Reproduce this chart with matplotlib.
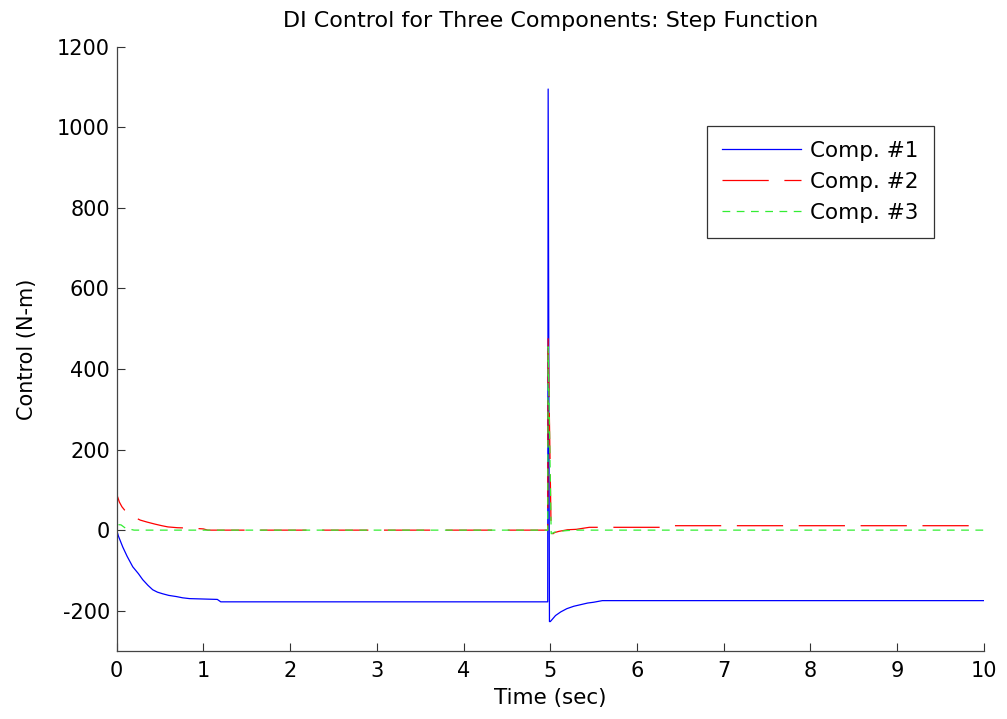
import matplotlib
matplotlib.use("Agg")
import matplotlib.pyplot as plt

plt.rcParams['font.family'] = ['DejaVu Sans']
plt.rcParams['axes.unicode_minus'] = False

# Component 1 control torque (N-m) vs time (sec)
t1 = [0.0, 0.0, 0.02, 0.07, 0.12, 0.185, 0.25, 0.30, 0.36, 0.415, 0.47, 0.53,
      0.60, 0.69, 0.76, 0.84, 1.00, 1.16, 1.20, 4.97, 4.975, 4.99, 5.00, 5.06,
      5.12, 5.19, 5.27, 5.35, 5.43, 5.50, 5.60, 10.0]
u1 = [-300, 0, -15, -42, -65, -91, -108, -123, -137, -148, -154, -158,
      -162, -165, -168, -170, -171, -172, -178, -178, 1095, -227, -227, -212,
      -203, -195, -189, -185, -181, -179, -175, -175]

# Component 2 control torque
t2 = [0.0, 0.0, 0.01, 0.03, 0.06, 0.09, 0.12, 0.18, 0.27, 0.35, 0.44, 0.52,
      0.59, 0.70, 0.85, 1.00, 1.05, 4.97, 4.975, 5.01, 5.05, 5.10, 5.20,
      5.30, 5.45, 6.30, 6.35, 10.0]
u2 = [-300, 75, 83, 70, 58, 50, 45, 35, 25, 20, 15, 11,
      8, 6, 5, 3, 0, 0, 480, -12, -6, -3, 1,
      2, 7, 7, 11, 11]

# Component 3 control torque
t3 = [0.0, 0.0, 0.05, 0.10, 0.20, 4.97, 4.975, 5.01, 5.05, 5.10, 5.20, 5.30, 10.0]
u3 = [-300, 14, 13, 5, 0, 0, 455, -9, -5, -3, -1, 0, 0]

labels = ['Comp. #1', 'Comp. #2', 'Comp. #3']
xticks = list(range(0, 11))
yticks = list(range(-200, 1201, 200))

fig = plt.figure(figsize=(10.07, 7.19), dpi=100)
ax = fig.add_axes([0.1159, 0.0946, 0.8612, 0.8404])

ax.plot(t1, u1, color=(0, 0, 1), lw=0.9, label=labels[0])
ax.plot(t2, u2, color=(1, 0, 0), lw=0.9, linestyle=(0, (37, 12.5)), label=labels[1])
ax.plot(t3, u3, color=(0.2, 0.93, 0.2), lw=0.9, linestyle=(0, (6.2, 5.2)), label=labels[2])

ax.set_xlim(0, 10)
ax.set_ylim(-300, 1200)
ax.set_xticks(xticks)
ax.set_yticks(yticks)
ax.tick_params(direction='in', length=6, width=0.8, labelsize=15, pad=5, colors='#333333',
               labelcolor='black')
ax.tick_params(axis='x', pad=7)
for side in ('top', 'right'):
    ax.spines[side].set_visible(False)
for side in ('left', 'bottom'):
    ax.spines[side].set_color('#444444')
    ax.spines[side].set_linewidth(0.9)

ax.set_xlabel('Time (sec)', fontsize=15.5, labelpad=5)
ax.set_ylabel('Control (N-m)', fontsize=15, labelpad=14)
ax.set_title('DI Control for Three Components: Step Function', fontsize=16, pad=14)

leg = ax.legend(loc='upper left', bbox_to_anchor=(0.6806, 0.869), fontsize=15.5,
                frameon=True, fancybox=False, handlelength=3.7, handletextpad=0.42,
                borderaxespad=0, borderpad=0.69, labelspacing=0.51)
leg.get_frame().set_edgecolor('black')
leg.get_frame().set_linewidth(0.9)

fig.savefig('out.png', dpi=100)
